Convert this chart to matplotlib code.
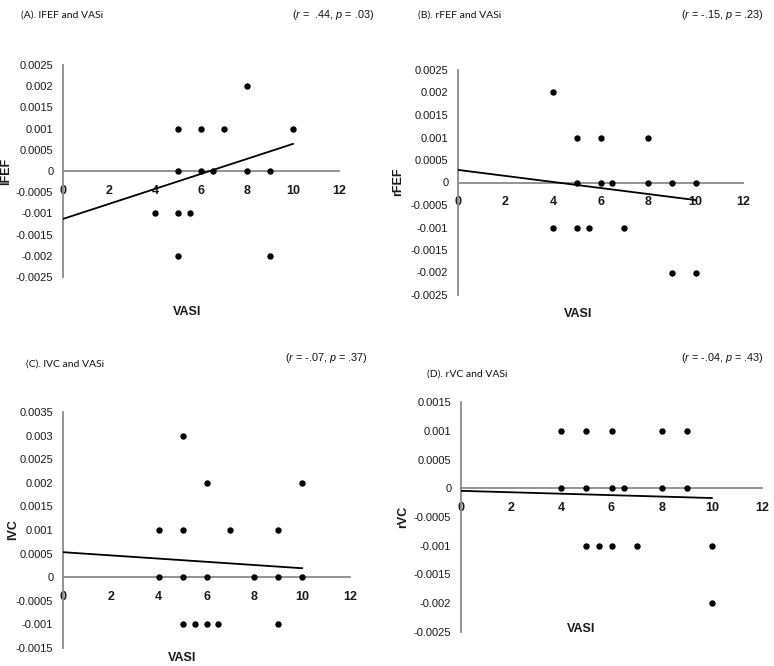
import matplotlib
matplotlib.use("Agg")
import matplotlib.pyplot as plt
from matplotlib import font_manager

# ---------------- data ----------------
a_x = [5, 6, 7, 10, 8, 5, 6, 6.5, 8, 9, 4, 5, 5.5, 5, 9]
a_y = [0.001, 0.001, 0.001, 0.001, 0.002, 0, 0, 0, 0, 0, -0.001, -0.001, -0.001, -0.002, -0.002]
a_trend_x = [0, 10]
a_trend_y = [-0.00113, 0.00064]
a_yticks = [-0.0025, -0.002, -0.0015, -0.001, -0.0005, 0, 0.0005, 0.001, 0.0015, 0.002, 0.0025]

b_x = [4, 5, 6, 8, 5, 6, 6.5, 8, 9, 10, 4, 5, 5.5, 7, 9, 10]
b_y = [0.002, 0.001, 0.001, 0.001, 0, 0, 0, 0, 0, 0, -0.001, -0.001, -0.001, -0.001, -0.002, -0.002]
b_trend_x = [0, 10]
b_trend_y = [0.00028, -0.00039]
b_yticks = [-0.0025, -0.002, -0.0015, -0.001, -0.0005, 0, 0.0005, 0.001, 0.0015, 0.002, 0.0025]

c_x = [5, 6, 10, 4, 5, 7, 9, 4, 5, 6, 8, 9, 10, 5, 5.5, 6, 6.5, 9]
c_y = [0.003, 0.002, 0.002, 0.001, 0.001, 0.001, 0.001, 0, 0, 0, 0, 0, 0,
       -0.001, -0.001, -0.001, -0.001, -0.001]
c_trend_x = [0, 10]
c_trend_y = [0.00053, 0.00019]
c_yticks = [-0.0015, -0.001, -0.0005, 0, 0.0005, 0.001, 0.0015, 0.002, 0.0025, 0.003, 0.0035]

d_x = [4, 5, 6, 8, 9, 4, 5, 6, 6.5, 8, 9, 5, 5.5, 6, 7, 10, 10]
d_y = [0.001, 0.001, 0.001, 0.001, 0.001, 0, 0, 0, 0, 0, 0,
       -0.001, -0.001, -0.001, -0.001, -0.001, -0.002]
d_trend_x = [0, 10]
d_trend_y = [-0.000045, -0.00017]
d_yticks = [-0.0025, -0.002, -0.0015, -0.001, -0.0005, 0, 0.0005, 0.001, 0.0015]

x_ticks = [0, 2, 4, 6, 8, 10, 12]

titles = ["(A). lFEF and VASi", "(B). rFEF and VASi", "(C). lVC and VASi", "(D). rVC and VASi"]
stats = [(".44", ".03", "=  "), ("-.15", ".23", "= "), ("-.07", ".37", "= "), ("-.04", ".43", "= ")]
ylabels = ["lFEF", "rFEF", "lVC", "rVC"]
xlabel = "VASI"

# ---------------- fonts ----------------
names = {f.name for f in font_manager.fontManager.ttflist}
NARROW = "Liberation Sans Narrow" if "Liberation Sans Narrow" in names else "Liberation Sans"
TITLEF = "Lato" if "Lato" in names else "DejaVu Sans"
plt.rcParams["font.family"] = [NARROW, "DejaVu Sans"]
plt.rcParams["mathtext.fontset"] = "custom"
plt.rcParams["mathtext.rm"] = NARROW
plt.rcParams["mathtext.it"] = NARROW + ":italic"
plt.rcParams["mathtext.bf"] = NARROW + ":bold"

W, H = 774, 666
fig = plt.figure(figsize=(W / 100, H / 100), dpi=100)
fig.patch.set_facecolor("white")


def px_axes(x0, x1, ytop, ybot):
    return fig.add_axes([x0 / W, 1 - ybot / H, (x1 - x0) / W, (ybot - ytop) / H])


def fmt(v):
    v = round(v, 6)
    if v == 0:
        return "0"
    return "{:g}".format(v)


panels = [
    dict(box=(63, 339, 65, 277), x=a_x, y=a_y, tx=a_trend_x, ty=a_trend_y, yt=a_yticks,
         title=(21, 15), stat=(374, 15), ylab=(6, 171), xlab=(187, 312)),
    dict(box=(458, 743, 70, 295), x=b_x, y=b_y, tx=b_trend_x, ty=b_trend_y, yt=b_yticks,
         title=(418, 15), stat=(764, 15), ylab=(398, 182), xlab=(578, 314)),
    dict(box=(63, 350, 412, 648), x=c_x, y=c_y, tx=c_trend_x, ty=c_trend_y, yt=c_yticks,
         title=(26, 364), stat=(368, 358), ylab=(13, 530), xlab=(182, 658)),
    dict(box=(461, 762, 402, 632), x=d_x, y=d_y, tx=d_trend_x, ty=d_trend_y, yt=d_yticks,
         title=(427, 374), stat=(764, 358), ylab=(403, 517), xlab=(581, 629)),
]

for i, p in enumerate(panels):
    ax = px_axes(*p["box"])
    ax.set_xlim(0, 12)
    ax.set_ylim(p["yt"][0], p["yt"][-1])
    ax.plot(p["tx"], p["ty"], color="black", lw=1.3, zorder=3)
    ax.plot(p["x"], p["y"], "o", color="black", ms=3.6, zorder=4, clip_on=False)
    for s in ("top", "right"):
        ax.spines[s].set_visible(False)
    ax.spines["bottom"].set_position(("data", 0))
    ax.spines["left"].set_position(("data", 0))
    for s in ("bottom", "left"):
        ax.spines[s].set_color("#8a8a8a")
        ax.spines[s].set_linewidth(1.3)
    ax.set_xticks(x_ticks)
    ax.set_xticklabels([str(t) for t in x_ticks], fontweight="bold")
    ax.set_yticks(p["yt"])
    ax.set_yticklabels([fmt(v) for v in p["yt"]])
    ax.tick_params(axis="x", length=0, pad=10, labelsize=9, colors="#1a1a1a")
    ax.tick_params(axis="y", length=0, pad=7, labelsize=8, colors="#1a1a1a")
    ax.patch.set_alpha(0)

    fig.text(p["title"][0] / W, 1 - p["title"][1] / H, titles[i], family=[TITLEF, "DejaVu Sans"],
             fontsize=7.5, ha="left", va="center", color="#111111")
    r, pv, eq = stats[i]
    fig.text(p["stat"][0] / W, 1 - p["stat"][1] / H,
             "(" + r"$\mathit{r}$" + " " + eq + r + ", " + r"$\mathit{p}$" + " = " + pv + ")",
             fontsize=7.8, ha="right", va="center", color="#111111")
    fig.text(p["ylab"][0] / W, 1 - p["ylab"][1] / H, ylabels[i], fontsize=9, fontweight="bold",
             rotation=90, ha="center", va="center", color="#1a1a1a")
    fig.text(p["xlab"][0] / W, 1 - p["xlab"][1] / H, xlabel, fontsize=9, fontweight="bold",
             ha="center", va="center", color="#1a1a1a")

fig.savefig("out.png", dpi=100, facecolor="white")
